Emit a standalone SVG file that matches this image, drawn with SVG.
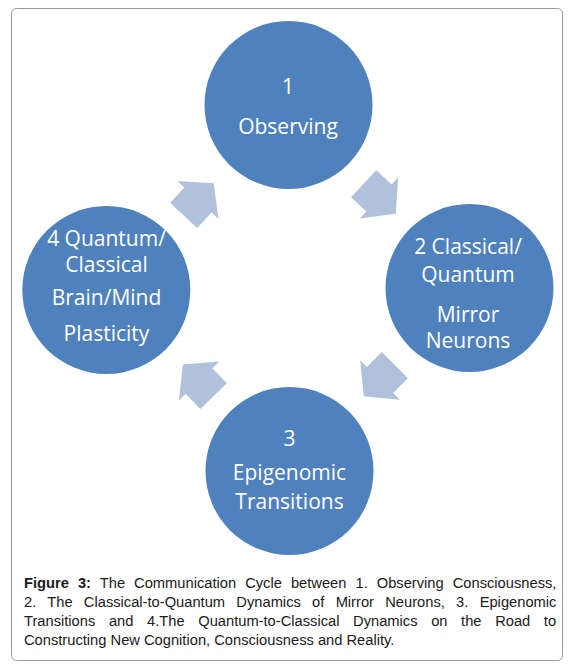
<svg xmlns="http://www.w3.org/2000/svg" width="573" height="671" viewBox="0 0 573 671">
<style>
.node circle{fill:#4F81BD}
.node text{fill:#fff;font-family:"Open Sans","Noto Sans",sans-serif;font-size:21px;text-anchor:middle}
.arr{fill:#B0C1DC}
.cap{font-family:"Liberation Sans",Arial,sans-serif;font-size:14.7px;fill:#1a1a1a}
</style>
<defs>
<polygon id="arrow" points="-21,-18.5 0,-18.5 0,-28 23,0 0,28 0,18.5 -21,18.5"/>
</defs>
<rect x="11.5" y="8.5" width="551" height="652" rx="5" fill="#fff" stroke="#999" stroke-width="1"/>
<g id="connectors">
<use href="#arrow" class="arr" transform="translate(198,200) rotate(-47)"/>
<use href="#arrow" class="arr" transform="translate(379,198) rotate(43)"/>
<use href="#arrow" class="arr" transform="translate(380,380) rotate(135)"/>
<use href="#arrow" class="arr" transform="translate(199,381) rotate(-134)"/>
</g>
<g id="node1" class="node">
<circle cx="288.5" cy="105" r="84"/>
<text x="288" y="94">1</text>
<text x="288" y="134">Observing</text>
</g>
<g id="node2" class="node">
<circle cx="469.5" cy="288" r="84"/>
<text x="468" y="254">2 Classical/</text>
<text x="468" y="282">Quantum</text>
<text x="468" y="322">Mirror</text>
<text x="468" y="348">Neurons</text>
</g>
<g id="node3" class="node">
<circle cx="289.5" cy="471" r="84"/>
<text x="289.5" y="446">3</text>
<text x="289.5" y="480">Epigenomic</text>
<text x="289.5" y="509">Transitions</text>
</g>
<g id="node4" class="node">
<circle cx="106.3" cy="290" r="84"/>
<text x="106.5" y="246">4 Quantum/</text>
<text x="106.5" y="272">Classical</text>
<text x="106.5" y="305">Brain/Mind</text>
<text x="106.5" y="341">Plasticity</text>
</g>
<g id="caption" class="cap">
<text x="24" y="588" word-spacing="4.95"><tspan font-weight="bold">Figure 3:</tspan> The Communication Cycle between 1. Observing Consciousness,</text>
<text x="24" y="607" word-spacing="7.2">2. The Classical-to-Quantum Dynamics of Mirror Neurons, 3. Epigenomic</text>
<text x="24" y="626" word-spacing="9.54">Transitions and 4.The Quantum-to-Classical Dynamics on the Road to</text>
<text x="24" y="645">Constructing New Cognition, Consciousness and Reality.</text>
</g>
</svg>
